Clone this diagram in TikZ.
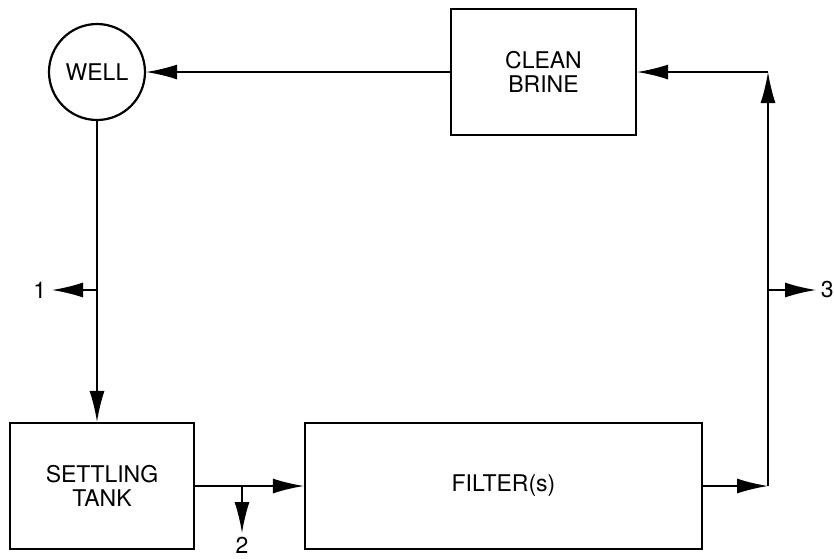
\documentclass[tikz,border=0pt]{standalone}
\usepackage{fontspec}
\setmainfont{TeX Gyre Heros}
\usetikzlibrary{arrows.meta, positioning, calc}

\begin{document}
\begin{tikzpicture}[x=1pt, y=-1pt, line width=1.6pt,
    every node/.style={font=\fontsize{23}{24}\selectfont, align=center, inner sep=0pt},
    unit/.style={draw, rectangle, line width=2.2pt, minimum height=126pt},
    flow/.style={-{Latex[length=31pt, width=15pt]}}]
    \useasboundingbox (0,0) rectangle (834,558);
    % units
    \node[draw, circle, line width=2.2pt, minimum size=96pt] (well) at (97,72) {WELL};
    \node[unit, minimum width=185pt] (brine) at (543.5,72) {CLEAN\\BRINE};
    \node[unit, minimum width=184pt] (tank) at (102,486) {SETTLING\\TANK};
    \node[unit, minimum width=397pt] (filter) at (503.5,486) {FILTER(s)};
    % junctions
    \coordinate (top) at (768,72);
    \coordinate (bot) at (768,486);
    \coordinate (j1) at (97,290);
    \coordinate (j2) at (242,486);
    \coordinate (j3) at (768,290);
    \coordinate (out1) at (52,290);
    \coordinate (out2) at (242,533);
    \coordinate (out3) at (816,290);
    \node[anchor=east] (lab1) at (47,290) {1};
    \node[anchor=north] (lab2) at (242,536) {2};
    \node[anchor=west] (lab3) at (820,290) {3};
    % flows
    \draw[flow] (well.south) -- (well.south |- tank.north);
    \draw[flow] (tank) -- (filter);
    \draw[flow] (filter) -- (bot);
    \draw[flow] (bot) -- (top);
    \draw[flow] (top) -- (brine);
    \draw[flow] (brine) -- (well);
    % draw-offs
    \draw[flow] (j1) -- (out1);
    \draw[flow] (j2) -- (out2);
    \draw[flow] (j3) -- (out3);
\end{tikzpicture}
\end{document}
